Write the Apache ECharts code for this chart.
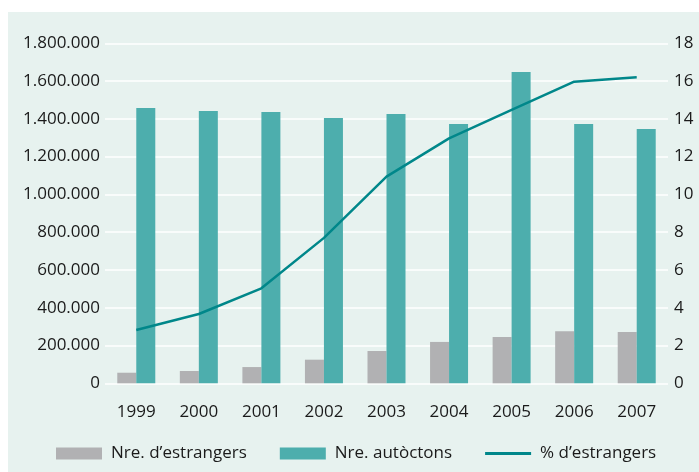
<!DOCTYPE html>
<html><head><meta charset="utf-8">
<script src="https://cdn.jsdelivr.net/npm/echarts@6/dist/echarts.min.js"></script>
<style>html,body{margin:0;padding:0;background:#fff}#c{width:699px;height:472px}</style>
</head><body><div id="c"></div>
<script>
const years = ['1999','2000','2001','2002','2003','2004','2005','2006','2007'];
const estrangers = [56000, 65000, 86000, 125000, 171000, 219000, 245000, 275000, 272000];
const autoctons = [1457000, 1441000, 1436000, 1405000, 1426000, 1373000, 1648000, 1373000, 1346000];
const pctEstrangers = [2.82, 3.67, 5.03, 7.7, 10.94, 12.97, 14.47, 15.97, 16.2];
const leftTicks = {min: 0, max: 1800000, interval: 200000};
const rightTicks = {min: 0, max: 18, interval: 2};

const font = '"Open Sans", "Noto Sans", sans-serif';
const chart = echarts.init(document.getElementById('c'), null, {renderer: 'canvas'});
chart.setOption({
  animation: false,
  backgroundColor: '#ffffff',
  graphic: [{type: 'rect', shape: {x: 8, y: 12, width: 691, height: 460}, style: {fill: '#e7f2ef'}, z: -10, silent: true}],
  grid: {left: 105, right: 31, top: 43.3, bottom: 88.7, containLabel: false},
  legend: {
    bottom: 5, left: 51, itemWidth: 46, itemHeight: 12, itemGap: 33,
    textStyle: {fontFamily: font, fontSize: 17, color: '#1a1a1a', padding: [0, 0, 0, 4]},
    data: [
      {name: 'Nre. d\u2019estrangers', icon: 'rect'},
      {name: 'Nre. autòctons', icon: 'rect'},
      {name: '% d\u2019estrangers', icon: 'path://M0,0 L46,0 L46,3 L0,3 Z'}
    ]
  },
  xAxis: {
    type: 'category', data: years,
    axisLine: {show: false}, axisTick: {show: false},
    axisLabel: {fontFamily: font, fontSize: 17, color: '#1a1a1a', margin: 20}
  },
  yAxis: [
    {type: 'value', min: leftTicks.min, max: leftTicks.max, interval: leftTicks.interval, position: 'left',
     axisLine: {show: false}, axisTick: {show: false},
     splitLine: {show: true, lineStyle: {color: '#ffffff', width: 1.5}},
     axisLabel: {fontFamily: font, fontSize: 17, color: '#1a1a1a', margin: 5,
       formatter: v => v === 0 ? '0' : String(v).replace(/\B(?=(\d{3})+(?!\d))/g, '.')}},
    {type: 'value', min: rightTicks.min, max: rightTicks.max, interval: rightTicks.interval, position: 'right',
     axisLine: {show: false}, axisTick: {show: false}, splitLine: {show: false},
     axisLabel: {fontFamily: font, fontSize: 17, color: '#1a1a1a', margin: 6}}
  ],
  series: [
    {name: 'Nre. d\u2019estrangers', type: 'bar', data: estrangers, barWidth: 19, barGap: '0%',
     itemStyle: {color: '#b1b1b3'}},
    {name: 'Nre. autòctons', type: 'bar', data: autoctons, barWidth: 19, barGap: '0%',
     itemStyle: {color: '#4daead'}},
    {name: '% d\u2019estrangers', type: 'line', yAxisIndex: 1, data: pctEstrangers,
     symbol: 'none', lineStyle: {color: '#00878a', width: 2.5}, itemStyle: {color: '#00878a'}}
  ]
});
</script></body></html>
